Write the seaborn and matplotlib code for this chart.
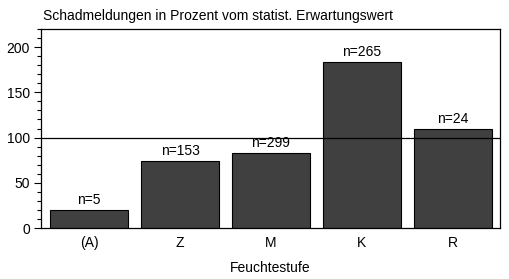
import matplotlib
matplotlib.use("Agg")
import matplotlib.pyplot as plt
import seaborn as sns
import pandas as pd
from matplotlib.ticker import MultipleLocator

categories = ["(A)", "Z", "M", "K", "R"]
values = [20, 74, 83, 184, 110]
counts = ["n=5", "n=153", "n=299", "n=265", "n=24"]

sns.set_style("white")
plt.rcParams['font.family'] = ['Liberation Sans', 'DejaVu Sans']
plt.rcParams['text.color'] = 'black'
plt.rcParams['axes.labelcolor'] = 'black'
plt.rcParams['xtick.color'] = 'black'
plt.rcParams['ytick.color'] = 'black'

df = pd.DataFrame({"stufe": categories, "wert": values})

fig = plt.figure(figsize=(5.10, 2.79), dpi=100)
ax = fig.add_axes([41/510, 1 - 228/279, (500-41)/510, (228-29)/279])
sns.barplot(data=df, x="stufe", y="wert", color="#404040", saturation=1,
            edgecolor="black", linewidth=0.8, width=0.86, ax=ax)
for p, c in zip(ax.patches, counts):
    ax.text(p.get_x() + p.get_width()/2, p.get_height() + 3, c,
            ha="center", va="bottom", fontsize=10)
ax.axhline(100, color="black", linewidth=0.9)
ax.set_xlim(-0.53, 4.52)
ax.set_ylim(0, 220)
ax.yaxis.set_major_locator(MultipleLocator(50))
ax.yaxis.set_minor_locator(MultipleLocator(10))
ax.tick_params(axis="y", which="major", length=5, width=0.8, direction="out", left=True, labelsize=10, pad=3)
ax.tick_params(axis="y", which="minor", length=3, width=0.8, direction="out", left=True)
ax.tick_params(axis="x", length=0, labelsize=10, pad=6)
for s in ax.spines.values():
    s.set_color("black")
    s.set_linewidth(0.9)
ax.set_xlabel("Feuchtestufe", fontsize=10, labelpad=8)
ax.set_ylabel("")
fig.text(43/510, 1 - 16/279, "Schadmeldungen in Prozent vom statist. Erwartungswert",
         fontsize=10, ha="left", va="center")
fig.savefig("out.png", dpi=100)
